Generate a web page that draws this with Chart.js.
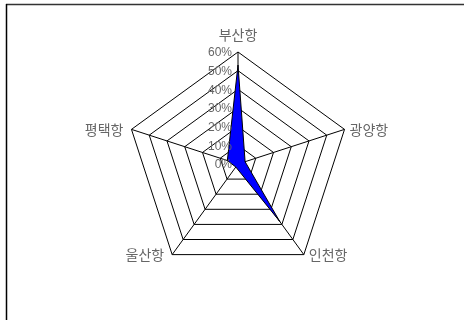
<!DOCTYPE html>
<html>
<head>
<meta charset="utf-8">
<script src="https://cdn.jsdelivr.net/npm/chart.js@4"></script>
<style>
  html, body { margin: 0; padding: 0; background: #fff; }
  #wrap { position: relative; width: 464px; height: 320px; }
</style>
</head>
<body>
<div id="wrap"><canvas id="portChart" width="464" height="320"></canvas></div>
<script>
// ------------------------------
// Data (share by port, %)
// ------------------------------
const ports = ['부산항', '광양항', '인천항', '울산항', '평택항'];
const shares = [53, 4, 38, 2, 6];
const tickValues = [0, 10, 20, 30, 40, 50, 60];

const labelFont = '14px "Noto Sans CJK KR", "Noto Sans", sans-serif';
const tickFont = '12px "Liberation Sans", Arial, sans-serif';

// Frame: only top and left edges visible (cropped Excel chart)
const framePlugin = {
  id: 'frame',
  beforeDraw(chart) {
    const ctx = chart.ctx;
    ctx.save();
    ctx.fillStyle = '#fff';
    ctx.fillRect(0, 0, chart.width, chart.height);
    ctx.lineWidth = 1.5;
    ctx.strokeStyle = '#333';
    ctx.beginPath();
    ctx.moveTo(6, 4.5);
    ctx.lineTo(chart.width, 4.5);
    ctx.stroke();
    ctx.strokeStyle = '#000';
    ctx.beginPath();
    ctx.moveTo(6.5, 4);
    ctx.lineTo(6.5, chart.height);
    ctx.stroke();
    ctx.restore();
  }
};

// Point labels and tick labels placed Excel-style
const labelsPlugin = {
  id: 'excelLabels',
  afterDraw(chart) {
    const scale = chart.scales.r;
    const ctx = chart.ctx;
    ctx.save();

    // tick labels, right-aligned just left of the vertical axis
    ctx.font = tickFont;
    ctx.fillStyle = '#666';
    ctx.textAlign = 'right';
    ctx.textBaseline = 'middle';
    scale.ticks.forEach(t => {
      const y = scale.yCenter - scale.getDistanceFromCenterForValue(t.value);
      ctx.fillText(t.value + '%', scale.xCenter - 6, y + 1);
    });

    // category labels at the pentagon vertices
    ctx.font = labelFont;
    ctx.fillStyle = '#666';
    ctx.textBaseline = 'middle';
    ports.forEach((name, i) => {
      const p = scale.getPointPosition(i, scale.drawingArea);
      if (Math.abs(p.x - scale.xCenter) < 1) {
        ctx.textAlign = 'center';
        ctx.fillText(name, p.x, p.y - 17);
      } else if (p.x > scale.xCenter) {
        ctx.textAlign = 'left';
        ctx.fillText(name, p.x + 5, p.y);
      } else {
        ctx.textAlign = 'right';
        ctx.fillText(name, p.x - 8, p.y);
      }
    });
    ctx.restore();
  }
};

new Chart(document.getElementById('portChart'), {
  type: 'radar',
  data: {
    labels: ports,
    datasets: [{
      data: shares,
      backgroundColor: '#0000FF',
      borderColor: '#000',
      borderWidth: 1,
      pointRadius: 0,
      fill: true
    }]
  },
  options: {
    responsive: false,
    animation: false,
    layout: { padding: { left: 126, right: 114, top: 52, bottom: 44 } },
    plugins: {
      legend: { display: false },
      tooltip: { enabled: false }
    },
    scales: {
      r: {
        min: tickValues[0],
        max: tickValues[tickValues.length - 1],
        ticks: { stepSize: 10, display: false },
        pointLabels: { display: false },
        grid: { color: '#000', lineWidth: 1 },
        angleLines: { color: '#000', lineWidth: 1 }
      }
    }
  },
  plugins: [framePlugin, labelsPlugin]
});
</script>
</body>
</html>
